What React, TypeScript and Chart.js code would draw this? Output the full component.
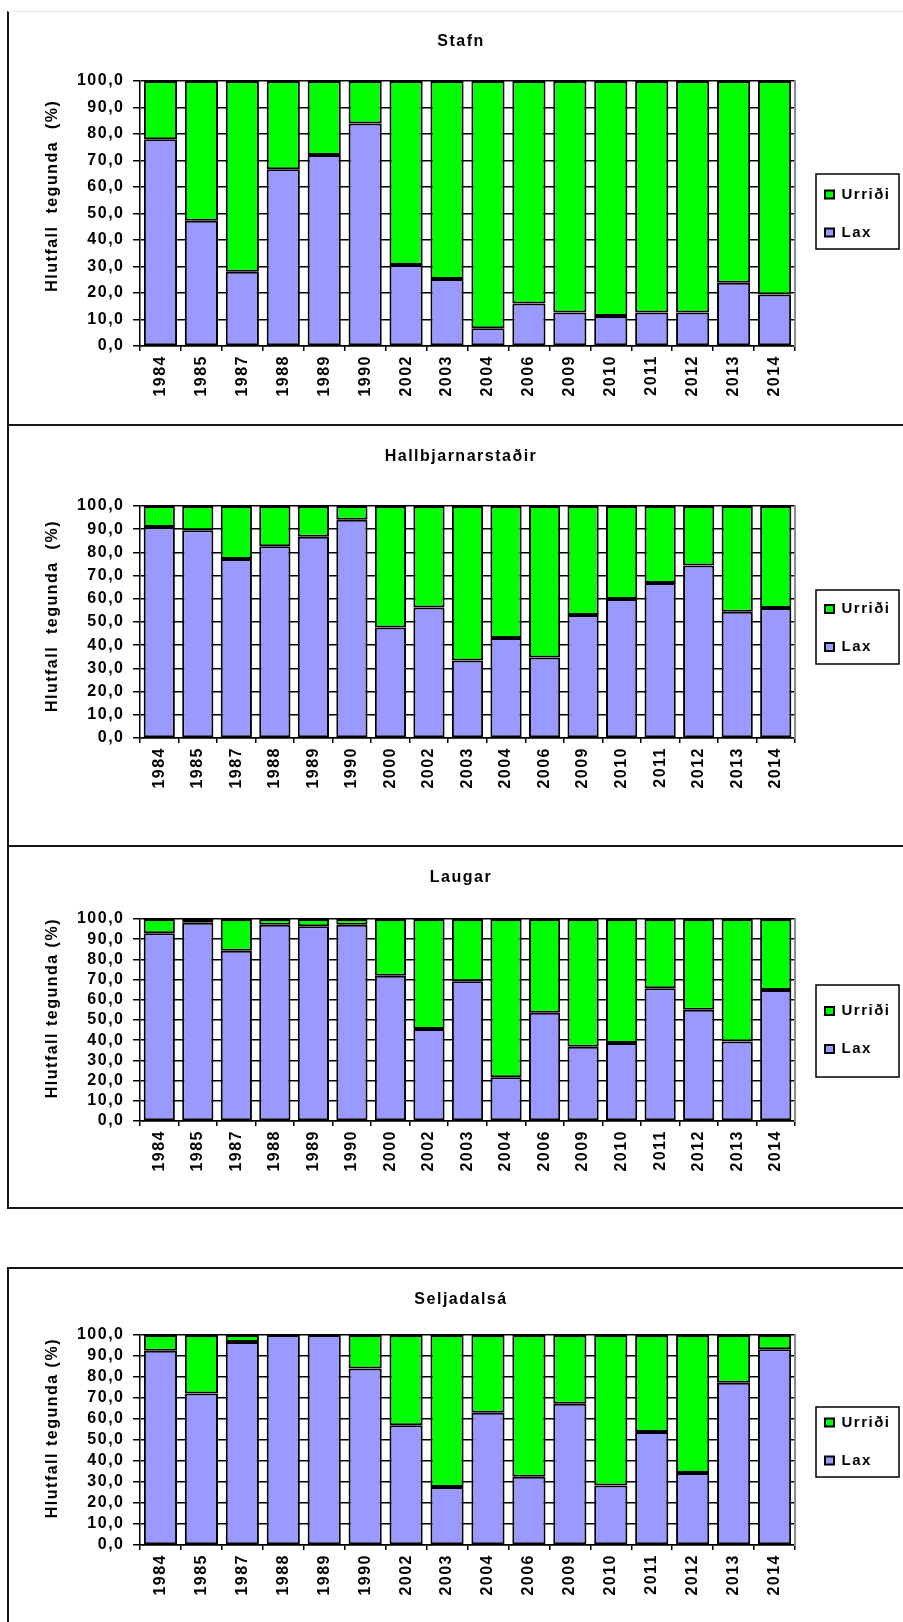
import React, { useEffect, useRef } from 'react';
import { Chart, registerables } from 'chart.js';

Chart.register(...registerables);

// ---------- data ----------
const yearsStafn = ['1984', '1985', '1987', '1988', '1989', '1990', '2002', '2003', '2004', '2006', '2009', '2010', '2011', '2012', '2013', '2014'];
const yearsHall = ['1984', '1985', '1987', '1988', '1989', '1990', '2000', '2002', '2003', '2004', '2006', '2009', '2010', '2011', '2012', '2013', '2014'];
const yearsLaugar = ['1984', '1985', '1987', '1988', '1989', '1990', '2000', '2002', '2003', '2004', '2006', '2009', '2010', '2011', '2012', '2013', '2014'];
const yearsSelja = ['1984', '1985', '1987', '1988', '1989', '1990', '2002', '2003', '2004', '2006', '2009', '2010', '2011', '2012', '2013', '2014'];

const stafnLax = [78.0, 47.3, 28.0, 66.7, 72.1, 84.0, 30.6, 25.3, 6.7, 16.0, 12.6, 11.3, 12.6, 12.6, 23.9, 19.4];
const stafnUrridi = [22.0, 52.7, 72.0, 33.3, 27.9, 16.0, 69.4, 74.7, 93.3, 84.0, 87.4, 88.7, 87.4, 87.4, 76.1, 80.6];

const hallLax = [91.0, 89.5, 77.2, 82.7, 86.7, 94.1, 47.6, 56.2, 33.4, 43.1, 34.7, 53.0, 59.9, 66.8, 74.4, 54.4, 56.0];
const hallUrridi = [9.0, 10.5, 22.8, 17.3, 13.3, 5.9, 52.4, 43.8, 66.6, 56.9, 65.3, 47.0, 40.1, 33.2, 25.6, 45.6, 44.0];

const laugarLax = [92.9, 98.2, 84.3, 97.2, 96.4, 97.2, 71.9, 45.5, 69.2, 21.7, 53.6, 36.8, 38.6, 65.7, 55.1, 39.4, 64.9];
const laugarUrridi = [7.1, 1.8, 15.7, 2.8, 3.6, 2.8, 28.1, 54.5, 30.8, 78.3, 46.4, 63.2, 61.4, 34.3, 44.9, 60.6, 35.1];

const seljaLax = [92.5, 72.2, 96.7, 100.0, 100.0, 84.0, 57.0, 27.6, 63.0, 32.5, 67.3, 28.3, 53.8, 34.3, 77.3, 93.2];
const seljaUrridi = [7.5, 27.8, 3.3, 0.0, 0.0, 16.0, 43.0, 72.4, 37.0, 67.5, 32.7, 71.7, 46.2, 65.7, 22.7, 6.8];

const yTickLabels = ['0,0', '10,0', '20,0', '30,0', '40,0', '50,0', '60,0', '70,0', '80,0', '90,0', '100,0'];

const seriesNames = { lax: 'Lax', urridi: 'Urriði' };
const titles = ['Stafn', 'Hallbjarnarstaðir', 'Laugar', 'Seljadalsá'];
const yTitleWide = 'Hlutfall  tegunda  (%)';
const yTitleNarrow = 'Hlutfall tegunda (%)';

// ---------- styles / layout ----------
const LAX_COLOR = '#9999FF';
const URRIDI_COLOR = '#00FF00';
const FONT_FAMILY = '"Liberation Sans", Arial, Helvetica, sans-serif';

Chart.defaults.font.family = FONT_FAMILY;
Chart.defaults.font.weight = 'bold';
Chart.defaults.font.size = 16;
Chart.defaults.color = '#000';

type PanelCfg = {
  title: string;
  yTitle: string;
  yTitleLead: number;
  years: string[];
  lax: number[];
  urridi: number[];
  top: number;
  height: number;
  plotTop: number;
  plotBottom: number;
  legendShift: number;
  legendPadTop: number;
  legendPadBottom: number;
};

const panels: PanelCfg[] = [
  { title: titles[0], yTitle: yTitleWide, yTitleLead: 6, years: yearsStafn, lax: stafnLax, urridi: stafnUrridi, top: 12, height: 412, plotTop: 81, plotBottom: 346, legendShift: 0, legendPadTop: 20.5, legendPadBottom: 16.5 },
  { title: titles[1], yTitle: yTitleWide, yTitleLead: 2, years: yearsHall, lax: hallLax, urridi: hallUrridi, top: 427, height: 417, plotTop: 506, plotBottom: 738, legendShift: 6, legendPadTop: 19, legendPadBottom: 17 },
  { title: titles[2], yTitle: yTitleNarrow, yTitleLead: 4, years: yearsLaugar, lax: laugarLax, urridi: laugarUrridi, top: 848, height: 357, plotTop: 919, plotBottom: 1121, legendShift: 10, legendPadTop: 26, legendPadBottom: 28 },
  { title: titles[3], yTitle: yTitleNarrow, yTitleLead: 4, years: yearsSelja, lax: seljaLax, urridi: seljaUrridi, top: 1270, height: 352, plotTop: 1335, plotBottom: 1545, legendShift: 1.5, legendPadTop: 15.5, legendPadBottom: 16.5 },
];

const CANVAS_LEFT = 9;
const CANVAS_WIDTH = 894;

const spacingPlugin = {
  id: 'letterSpacing',
  beforeUpdate(chart: any) {
    (chart.ctx as any).letterSpacing = '1.5px';
  },
  beforeDraw(chart: any) {
    (chart.ctx as any).letterSpacing = '1.5px';
  },
};

const legendBoxPlugin = {
  id: 'legendBox',
  afterDraw(chart: any, _args: any, opts: any) {
    const lg = chart.legend;
    if (!lg || !lg.legendHitBoxes || lg.legendHitBoxes.length < 2) return;
    const hb = lg.legendHitBoxes;
    const y1 = hb[0].top + hb[0].height / 2;
    const y2 = hb[hb.length - 1].top + hb[hb.length - 1].height / 2;
    const ctx = chart.ctx;
    ctx.save();
    ctx.strokeStyle = '#000';
    ctx.lineWidth = 1.5;
    const left = lg.left + 14;
    const top = y1 - opts.padTop;
    ctx.strokeRect(left, top, lg.right - left, y2 + opts.padBottom - top);
    ctx.restore();
  },
};

function ChartPanel({ cfg }: { cfg: PanelCfg }) {
  const ref = useRef<HTMLCanvasElement | null>(null);

  useEffect(() => {
    if (!ref.current) return;
    const titleLine = 16 * 1.2;
    const titlePadTop = 30 - titleLine / 2;
    const plotTopRel = cfg.plotTop - cfg.top;
    const plotBottomRel = cfg.plotBottom - cfg.top;
    const titlePadBottom = plotTopRel - titlePadTop - titleLine;
    const xHeight = cfg.height - plotBottomRel;
    const shiftTitle = cfg.legendShift > 0;

    const barStyle = {
      borderColor: '#000',
      borderWidth: 2,
      borderSkipped: false,
      barPercentage: 0.81,
      categoryPercentage: 1,
    };

    const chart = new Chart(ref.current, {
      type: 'bar',
      data: {
        labels: cfg.years,
        datasets: [
          { label: seriesNames.lax, data: cfg.lax, backgroundColor: LAX_COLOR, ...barStyle },
          { label: seriesNames.urridi, data: cfg.urridi, backgroundColor: URRIDI_COLOR, ...barStyle },
        ],
      },
      options: {
        animation: false,
        responsive: false,
        maintainAspectRatio: false,
        events: [],
        layout: { padding: { left: 14, right: 4, top: 0, bottom: 0 } },
        plugins: {
          title: {
            display: true,
            text: cfg.title,
            color: '#000',
            font: { size: 16, weight: 'bold' },
            padding: { top: titlePadTop, bottom: titlePadBottom },
          },
          legend: {
            display: true,
            position: 'right',
            fullSize: false,
            reverse: true,
            maxWidth: 97,
            title: {
              display: shiftTitle,
              text: '',
              font: { size: 1 },
              padding: { top: Math.max(0, 2 * cfg.legendShift - 1.2), bottom: 0 },
            },
            labels: {
              color: '#000',
              font: { size: 15, weight: 'bold' },
              boxWidth: 9,
              boxHeight: 8,
              padding: 23,
            },
          },
          tooltip: { enabled: false },
          legendBox: { padTop: cfg.legendPadTop, padBottom: cfg.legendPadBottom },
        } as any,
        scales: {
          x: {
            stacked: true,
            offset: true,
            grid: {
              display: true,
              drawOnChartArea: false,
              offset: true,
              color: '#000',
              lineWidth: 1.5,
              tickLength: 5,
            },
            border: { display: true, color: '#000', width: 1.5 },
            ticks: {
              minRotation: 90,
              maxRotation: 90,
              autoSkip: false,
              padding: 4,
              color: '#000',
              font: { size: 16, weight: 'bold' },
            },
            afterFit: (s: any) => {
              s.height = xHeight;
            },
          },
          y: {
            stacked: true,
            min: 0,
            max: 100,
            grid: {
              color: '#000',
              lineWidth: 1.5,
              tickLength: 7,
            },
            border: { display: true, color: '#000', width: 1.5 },
            ticks: {
              stepSize: 10,
              autoSkip: false,
              padding: 8.5,
              color: '#000',
              font: { size: 16, weight: 'bold' },
              callback: (_v: any, i: number) => yTickLabels[i],
            },
            title: {
              display: true,
              text: ' '.repeat(cfg.yTitleLead) + cfg.yTitle,
              color: '#000',
              font: { size: 16, weight: 'bold' },
              padding: { top: 20.4, bottom: 0 },
            },
            afterFit: (s: any) => {
              s.width = 117;
            },
          },
          y2: {
            type: 'linear',
            position: 'right',
            min: 0,
            max: 1,
            grid: { drawOnChartArea: false, drawTicks: false },
            ticks: { display: false },
            border: { display: true, color: '#8c8c8c', width: 2 },
            afterFit: (s: any) => {
              s.width = 7;
            },
          },
        },
      } as any,
      plugins: [spacingPlugin, legendBoxPlugin] as any,
    });
    return () => chart.destroy();
  }, [cfg]);

  return (
    <canvas
      ref={ref}
      width={CANVAS_WIDTH}
      height={cfg.height}
      style={{
        position: 'absolute',
        left: CANVAS_LEFT,
        top: cfg.top,
        width: CANVAS_WIDTH,
        height: cfg.height,
        display: 'block',
      }}
    />
  );
}

export default function App() {
  const line = '2px solid #151515';
  return (
    <div
      style={{
        position: 'absolute',
        left: 0,
        top: 0,
        width: 903,
        height: 1622,
        overflow: 'hidden',
        background: '#fff',
      }}
    >
      <div style={{ position: 'absolute', left: 7, top: 11, width: 1000, height: 414, borderLeft: line, borderTop: '1px solid #e8e8e8' }} />
      <div style={{ position: 'absolute', left: 7, top: 424, width: 1000, height: 420, borderLeft: line, borderTop: line }} />
      <div style={{ position: 'absolute', left: 7, top: 845, width: 1000, height: 360, borderLeft: line, borderTop: line, borderBottom: line }} />
      <div style={{ position: 'absolute', left: 7, top: 1267, width: 1000, height: 500, borderLeft: line, borderTop: line }} />
      {panels.map((p) => (
        <ChartPanel key={p.title} cfg={p} />
      ))}
    </div>
  );
}
